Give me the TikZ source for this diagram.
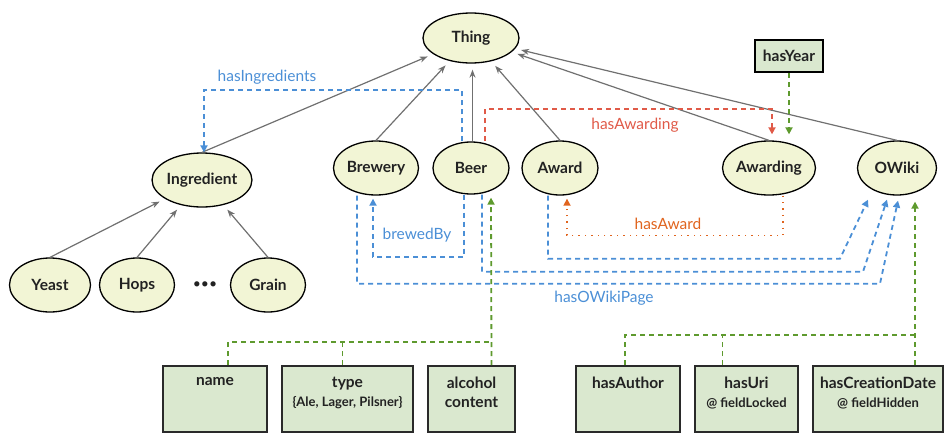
\documentclass[tikz,border=0pt]{standalone}
\usepackage{fontspec}
\setmainfont{Lato}
\usetikzlibrary{arrows.meta,shapes.geometric}

\definecolor{clsfill}{HTML}{F2F5D5}
\definecolor{boxfill}{HTML}{DAE8CF}
\definecolor{boxline}{HTML}{2A2A2A}
\definecolor{isagray}{HTML}{707070}
\definecolor{relblue}{HTML}{4B8FD6}
\definecolor{relred}{HTML}{E05A48}
\definecolor{relorange}{HTML}{E0641E}
\definecolor{relgreen}{HTML}{5E9A2E}
\definecolor{txt}{HTML}{222222}

% second, smaller line inside an attribute box
\newcommand\propnote[1]{{\fontsize{13}{14}\selectfont #1}}

\begin{document}
\begin{tikzpicture}[x=1pt,y=-1pt,
  cls/.style={ellipse, draw=black, line width=1.3pt, fill=clsfill, inner sep=0pt,
    font=\fontsize{15.5}{17}\selectfont\bfseries, text=txt},
  prop/.style={rectangle, draw=boxline, line width=1.5pt, fill=boxfill, inner sep=0pt,
    anchor=north, minimum height=66pt},
  proptext/.style={anchor=north, align=center, inner sep=0pt,
    font=\fontsize{15.5}{19}\selectfont\bfseries, text=txt},
  isa/.style={draw=isagray, line width=1.2pt, -{Stealth[length=8pt,width=6pt]}, shorten >=6pt},
  tip/.style={-{Triangle[length=7pt,width=7pt]}},
  bluedash/.style={draw=relblue, line width=1.8pt, dash pattern=on 5pt off 4pt, tip},
  reddash/.style={draw=relred, line width=1.8pt, dash pattern=on 5pt off 4pt, tip},
  orangedot/.style={draw=relorange, line width=1.6pt, dash pattern=on 1.4pt off 5pt, tip},
  greendash/.style={draw=relgreen, line width=1.8pt, dash pattern=on 5pt off 4pt},
  rellabel/.style={font=\fontsize{15.5}{17}\selectfont, inner sep=1pt},
]
\useasboundingbox (0,0) rectangle (947,434);

% classes
\node[cls, minimum width=96pt, minimum height=50pt] (thing) at (471,38) {Thing};
\node[cls, minimum width=97pt, minimum height=54pt] (ingredient) at (202,180) {Ingredient};
\node[cls, minimum width=85pt, minimum height=54pt] (brewery) at (376,168) {Brewery};
\node[cls, minimum width=76pt, minimum height=52pt] (beer) at (471,168) {Beer};
\node[cls, minimum width=76pt, minimum height=54pt] (award) at (560,168) {Award};
\node[cls, minimum width=88pt, minimum height=54pt] (awarding) at (769,168) {Awarding};
\node[cls, minimum width=79pt, minimum height=54pt] (owiki) at (897,168) {OWiki};
\node[cls, minimum width=81pt, minimum height=54pt] (yeast) at (50,285) {Yeast};
\node[cls, minimum width=75pt, minimum height=54pt] (hops) at (137,285) {Hops};
\node[cls, minimum width=75pt, minimum height=54pt] (grain) at (268,285) {Grain};
\node[font=\fontsize{14}{16}\selectfont, text=txt, inner sep=0pt] (more) at (205,285) {•••};

% attribute of Awarding
\node[rectangle, draw=black, line width=2pt, fill=boxfill, minimum width=68pt,
  minimum height=32pt, inner sep=0pt, font=\fontsize{15.5}{17}\selectfont\bfseries, text=txt]
  (hasyear) at (789,56) {hasYear};

% attribute boxes
\node[prop, minimum width=104pt] (namebox) at (215,365) {};
\node[prop, minimum width=131pt] (typebox) at (347.5,365) {};
\node[prop, minimum width=87pt]  (alcbox) at (471.5,365) {};
\node[prop, minimum width=104pt] (authorbox) at (628,365) {};
\node[prop, minimum width=103pt] (uribox) at (746.5,365) {};
\node[prop, minimum width=130pt] (datebox) at (878,365) {};

\node[proptext] (nameT) at ([yshift=-12pt]namebox.north) {name};
\node[proptext] (typeT) at ([yshift=-12pt]typebox.north) {type\\\propnote{\{Ale, Lager, Pilsner\}}};
\node[proptext] (alcT) at ([yshift=-12pt]alcbox.north) {alcohol\\content};
\node[proptext] (authorT) at ([yshift=-12pt]authorbox.north) {hasAuthor};
\node[proptext] (uriT) at ([yshift=-12pt]uribox.north) {hasUri\\\propnote{@ fieldLocked}};
\node[proptext] (dateT) at ([yshift=-12pt]datebox.north) {hasCreationDate\\\propnote{@ fieldHidden}};

% subclass links
\draw[isa] (ingredient.north) -- (thing);
\draw[isa] (brewery.north) -- (thing);
\draw[isa] ([xshift=1.5pt]beer.north) -- ([xshift=1.5pt]thing.south);
\draw[isa] (award.north) -- (thing);
\draw[isa] (awarding.north) -- (thing);
\draw[isa] (owiki.north) -- (thing);
\draw[isa] (yeast.north) -- (ingredient);
\draw[isa] (hops.north) -- (ingredient);
\draw[isa] (grain.north) -- (ingredient);

% hasIngredients
\draw[bluedash] ([xshift=-9pt]beer.north) -- ++(0,-51) -| ([xshift=2pt]ingredient.north);
\node[rellabel, text=relblue] (lblIngr) at (267,77) {hasIngredients};

% hasAwarding
\draw[reddash, -{Triangle[length=7pt,width=7pt,fill=relorange]}, shorten >=6pt]
  ([xshift=14pt]beer.north) -- ++(0,-32) -| ([xshift=3pt]awarding.north);
\node[rellabel, text=relred] (lblAwarding) at (635,125) {hasAwarding};

% hasYear
\draw[greendash, tip, shorten >=6pt] (hasyear.south) -- ([xshift=20pt]awarding.north);

% hasAward
\draw[orangedot] ([xshift=14pt]awarding.south) -- ++(0,40) -| ([xshift=7pt,yshift=-3pt]award.south);
\node[rellabel, text=relorange] (lblAward) at (668,224) {hasAward};

% brewedBy
\draw[bluedash] ([xshift=-7pt]beer.south) -- ++(0,62) -| ([xshift=-3pt,yshift=-3pt]brewery.south);
\node[rellabel, text=relblue] (lblBrewed) at (417,235) {brewedBy};

% hasOWikiPage
\draw[bluedash] ([xshift=-12pt]award.south) |- ([xshift=-57pt,yshift=-63pt]owiki.south)
  -- ([xshift=-29pt,yshift=-4pt]owiki.south);
\draw[bluedash] ([xshift=11pt]beer.south) |- ([xshift=-34pt,yshift=-76pt]owiki.south)
  -- ([xshift=-10pt,yshift=-4pt]owiki.south);
\draw[bluedash] ([xshift=-19pt]brewery.south) |- ([xshift=-17pt,yshift=-88pt]owiki.south)
  -- ([xshift=1pt,yshift=-5pt]owiki.south);
\node[rellabel, text=relblue] (lblWiki) at (604,298) {hasOWikiPage};

% Beer attributes
\draw[greendash, tip] ([xshift=20pt]alcbox.north) -- ([xshift=20pt,yshift=-3pt]beer.south);
\draw[greendash] ([xshift=13pt]namebox.north) |- ([xshift=20pt,yshift=23pt]alcbox.north);
\draw[greendash] ([xshift=-5pt]typebox.north) -- ++(0,-23);

% OWiki attributes
\draw[greendash, tip] ([xshift=37pt]datebox.north) -- ([xshift=18pt,yshift=-6pt]owiki.south);
\draw[greendash] ([xshift=-3pt]authorbox.north) |- ([xshift=37pt,yshift=30pt]datebox.north);
\draw[greendash] ([xshift=-24pt]uribox.north) -- ++(0,-30);
\end{tikzpicture}
\end{document}
